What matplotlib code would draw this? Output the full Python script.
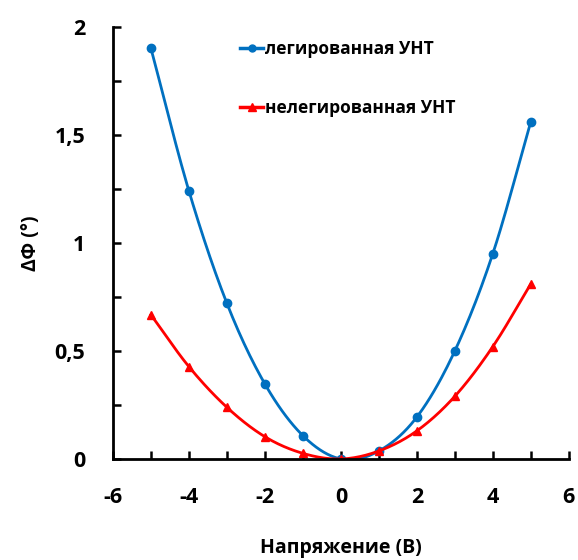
import numpy as np
import matplotlib
matplotlib.use('Agg')
import matplotlib.pyplot as plt
from matplotlib.ticker import MultipleLocator, FuncFormatter

plt.rcParams['font.family'] = ['Open Sans', 'DejaVu Sans']
plt.rcParams['axes.unicode_minus'] = False

# data
voltage = [-5, -4, -3, -2, -1, 0, 1, 2, 3, 4, 5]
doped = [1.90, 1.24, 0.72, 0.347, 0.108, 0.0, 0.037, 0.194, 0.50, 0.95, 1.56]
undoped = [0.667, 0.427, 0.239, 0.103, 0.026, 0.0, 0.037, 0.13, 0.29, 0.52, 0.81]
labels = ['легированная УНТ', 'нелегированная УНТ']


def smooth(x, y, n=20):
    """Catmull-Rom style curve through the points (like Excel smoothed line)."""
    x = np.asarray(x, float); y = np.asarray(y, float)
    px = np.concatenate([[2 * x[0] - x[1]], x, [2 * x[-1] - x[-2]]])
    py = np.concatenate([[2 * y[0] - y[1]], y, [2 * y[-1] - y[-2]]])
    xs, ys = [], []
    t = np.linspace(0, 1, n, endpoint=False)
    for i in range(1, len(px) - 2):
        for p, out in ((px, xs), (py, ys)):
            p0, p1, p2, p3 = p[i - 1], p[i], p[i + 1], p[i + 2]
            out.extend(0.5 * (2 * p1 + (-p0 + p2) * t + (2 * p0 - 5 * p1 + 4 * p2 - p3) * t ** 2
                              + (-p0 + 3 * p1 - 3 * p2 + p3) * t ** 3))
    xs.append(x[-1]); ys.append(y[-1])
    return np.array(xs), np.array(ys)


fig = plt.figure(figsize=(5.78, 5.6), dpi=100)
ax = fig.add_axes([0.1955, 0.1804, 0.7885, 0.7716])

blue = '#0070C0'
red = '#FF0000'

sx, sy = smooth(voltage, doped)
ax.plot(sx, sy, color=blue, lw=2)
ax.plot(voltage, doped, 'o', color=blue, ms=6)
sx, sy = smooth(voltage, undoped)
ax.plot(sx, sy, color=red, lw=2)
ax.plot(voltage, undoped, '^', color=red, ms=6)

# legend proxies
ax.plot([], [], '-o', color=blue, lw=2.5, ms=5, label=labels[0])
ax.plot([], [], '-^', color=red, lw=2.5, ms=6, label=labels[1])
leg = ax.legend(loc='upper left', bbox_to_anchor=(0.245, 1.005), frameon=False,
                handlelength=1.3, handletextpad=0.1, labelspacing=2.35,
                prop={'weight': 'bold', 'size': 12.5})

ax.set_xlim(-6, 6)
ax.set_ylim(0, 2)
ax.xaxis.set_major_locator(MultipleLocator(2))
ax.xaxis.set_minor_locator(MultipleLocator(1))
ax.yaxis.set_major_locator(MultipleLocator(0.5))
ax.yaxis.set_minor_locator(MultipleLocator(0.25))
ax.yaxis.set_major_formatter(FuncFormatter(lambda v, p: f'{v:g}'.replace('.', ',')))

for s in ['top', 'right']:
    ax.spines[s].set_visible(False)
for s in ['left', 'bottom']:
    ax.spines[s].set_linewidth(2)
ax.tick_params(which='both', direction='in', length=6, width=1.8)
ax.tick_params(axis='x', which='major', labelsize=15.5, pad=20)
ax.tick_params(axis='y', which='major', labelsize=15.5, pad=20)
for lab in ax.get_xticklabels() + ax.get_yticklabels():
    lab.set_fontweight('bold')

ax.set_xlabel('Напряжение (В)', fontsize=14, fontweight='bold', labelpad=22)
ax.set_ylabel('ΔΦ (°)', fontsize=14, fontweight='bold', labelpad=10)

fig.savefig('out.png', dpi=100)
